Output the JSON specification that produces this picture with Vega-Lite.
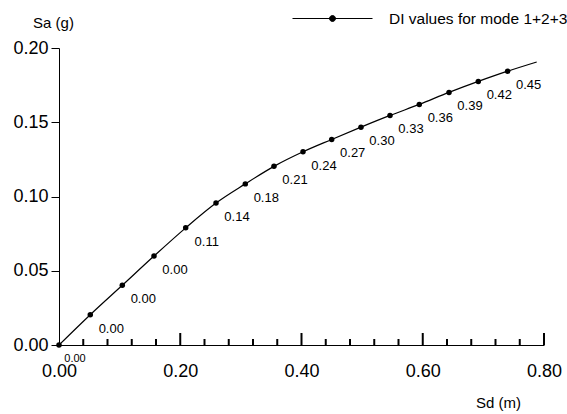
{
  "$schema": "https://vega.github.io/schema/vega-lite/v6.json",
  "width": 485,
  "height": 297,
  "autosize": {"type": "none"},
  "padding": {"left": 59, "top": 48, "right": 23, "bottom": 69},
  "background": "white",
  "config": {
    "view": {"stroke": null},
    "font": "Liberation Sans",
    "axis": {"grid": false, "domainColor": "black", "tickColor": "black", "labelColor": "black", "titleColor": "black", "labelFont": "Liberation Sans", "titleFont": "Liberation Sans", "titleFontWeight": "normal", "domainWidth": 1, "tickWidth": 1},
    "legend": {"labelFont": "Liberation Sans"}
  },
  "datasets": {
    "curve": [
      {"sd": 0.0, "sa": 0.0, "di": "0.00", "series": "DI values for mode 1+2+3", "marker": true},
      {"sd": 0.0516, "sa": 0.0204, "di": "0.00", "series": "DI values for mode 1+2+3", "marker": true},
      {"sd": 0.1044, "sa": 0.0402, "di": "0.00", "series": "DI values for mode 1+2+3", "marker": true},
      {"sd": 0.1567, "sa": 0.0599, "di": "0.00", "series": "DI values for mode 1+2+3", "marker": true},
      {"sd": 0.209, "sa": 0.0789, "di": "0.11", "series": "DI values for mode 1+2+3", "marker": true},
      {"sd": 0.259, "sa": 0.0956, "di": "0.14", "series": "DI values for mode 1+2+3", "marker": true},
      {"sd": 0.3073, "sa": 0.1085, "di": "0.18", "series": "DI values for mode 1+2+3", "marker": true},
      {"sd": 0.3546, "sa": 0.1203, "di": "0.21", "series": "DI values for mode 1+2+3", "marker": true},
      {"sd": 0.4025, "sa": 0.1301, "di": "0.24", "series": "DI values for mode 1+2+3", "marker": true},
      {"sd": 0.4498, "sa": 0.1384, "di": "0.27", "series": "DI values for mode 1+2+3", "marker": true},
      {"sd": 0.4981, "sa": 0.1467, "di": "0.30", "series": "DI values for mode 1+2+3", "marker": true},
      {"sd": 0.546, "sa": 0.1546, "di": "0.33", "series": "DI values for mode 1+2+3", "marker": true},
      {"sd": 0.5943, "sa": 0.162, "di": "0.36", "series": "DI values for mode 1+2+3", "marker": true},
      {"sd": 0.6433, "sa": 0.1701, "di": "0.39", "series": "DI values for mode 1+2+3", "marker": true},
      {"sd": 0.6916, "sa": 0.1775, "di": "0.42", "series": "DI values for mode 1+2+3", "marker": true},
      {"sd": 0.740, "sa": 0.1844, "di": "0.45", "series": "DI values for mode 1+2+3", "marker": true},
      {"sd": 0.788, "sa": 0.1906, "di": "", "series": "DI values for mode 1+2+3", "marker": false}
    ],
    "xticks": [
      {"v": 0.04, "kind": "minor"}, {"v": 0.08, "kind": "minor"}, {"v": 0.12, "kind": "minor"}, {"v": 0.16, "kind": "minor"}, {"v": 0.2, "kind": "major"},
      {"v": 0.24, "kind": "minor"}, {"v": 0.28, "kind": "minor"}, {"v": 0.32, "kind": "minor"}, {"v": 0.36, "kind": "minor"}, {"v": 0.4, "kind": "major"},
      {"v": 0.44, "kind": "minor"}, {"v": 0.48, "kind": "minor"}, {"v": 0.52, "kind": "minor"}, {"v": 0.56, "kind": "minor"}, {"v": 0.6, "kind": "major"},
      {"v": 0.64, "kind": "minor"}, {"v": 0.68, "kind": "minor"}, {"v": 0.72, "kind": "minor"}, {"v": 0.76, "kind": "minor"}, {"v": 0.8, "kind": "major"}
    ]
  },
  "layer": [
    {
      "data": {"name": "curve"},
      "mark": {"type": "line", "interpolate": "monotone", "strokeWidth": 1.2},
      "encoding": {
        "x": {"field": "sd", "type": "quantitative", "scale": {"domain": [0, 0.8], "nice": false},
          "axis": {"orient": "bottom", "values": [0, 0.2, 0.4, 0.6, 0.8], "format": ".2f", "ticks": false,
            "labelFontSize": 18, "labelPadding": 17, "labelFlush": false, "labelOverlap": false,
            "title": "Sd (m)", "titleFontSize": 15, "titleX": 439, "titleY": 57, "titleAlign": "center", "titleBaseline": "middle"}},
        "y": {"field": "sa", "type": "quantitative", "scale": {"domain": [0, 0.2], "nice": false},
          "axis": {"orient": "left", "values": [0, 0.05, 0.1, 0.15, 0.2], "format": ".2f", "ticks": true, "tickSize": 8,
            "labelFontSize": 18, "labelPadding": 3, "labelFlush": false, "labelOverlap": false,
            "title": "Sa (g)", "titleFontSize": 15, "titleAngle": 0, "titleX": -6, "titleY": -26, "titleAlign": "center", "titleBaseline": "middle"}},
        "color": {"field": "series", "type": "nominal", "scale": {"range": ["black"]},
          "legend": {"title": null, "orient": "none", "legendX": 233, "legendY": -40, "symbolType": "M-1,0H7M2.7,0A0.3,0.3 0 1,1 3.3,0A0.3,0.3 0 1,1 2.7,0Z", "symbolSize": 400, "symbolStrokeWidth": 1, "symbolFillColor": "black", "symbolStrokeColor": "black", "labelFontSize": 15.5, "labelOffset": 76, "labelLimit": 0, "labelColor": "black",
            "encode": {"symbols": {"update": {"fill": {"value": "black"}, "stroke": {"value": "black"}, "strokeWidth": {"value": 1}}}}}}
      }
    },
    {
      "data": {"name": "xticks"},
      "transform": [{"filter": "datum.kind == 'major'"}],
      "mark": {"type": "rule", "color": "black", "strokeWidth": 2},
      "encoding": {
        "x": {"field": "v", "type": "quantitative"},
        "y": {"datum": 0},
        "y2": {"datum": 0.00808}
      }
    },
    {
      "data": {"name": "xticks"},
      "transform": [{"filter": "datum.kind == 'minor'"}],
      "mark": {"type": "rule", "color": "black", "strokeWidth": 2},
      "encoding": {
        "x": {"field": "v", "type": "quantitative"},
        "y": {"datum": 0},
        "y2": {"datum": 0.00404}
      }
    },
    {
      "data": {"name": "curve"},
      "transform": [{"filter": "datum.marker"}],
      "mark": {"type": "circle", "size": 30, "color": "black", "opacity": 1},
      "encoding": {
        "x": {"field": "sd", "type": "quantitative"},
        "y": {"field": "sa", "type": "quantitative"}
      }
    },
    {
      "data": {"name": "curve"},
      "transform": [{"filter": "datum.marker && datum.sd > 0"}],
      "mark": {"type": "text", "dx": 21, "dy": 14, "fontSize": 13, "font": "Liberation Sans", "color": "black", "align": "center", "baseline": "middle"},
      "encoding": {
        "x": {"field": "sd", "type": "quantitative"},
        "y": {"field": "sa", "type": "quantitative"},
        "text": {"field": "di"}
      }
    },
    {
      "data": {"name": "curve"},
      "transform": [{"filter": "datum.sd == 0"}],
      "mark": {"type": "text", "dx": 16, "dy": 14, "fontSize": 11, "font": "Liberation Sans", "color": "black", "align": "center", "baseline": "middle"},
      "encoding": {
        "x": {"field": "sd", "type": "quantitative"},
        "y": {"field": "sa", "type": "quantitative"},
        "text": {"field": "di"}
      }
    }
  ]
}
